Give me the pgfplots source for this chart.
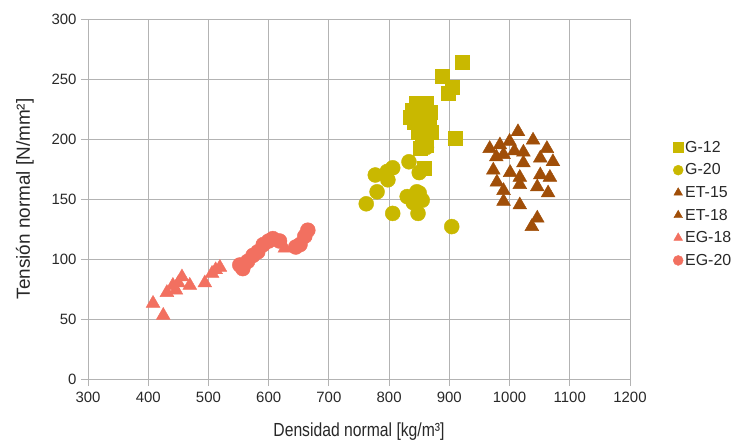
\documentclass[border=0pt]{standalone}
\usepackage{pgfplots}
\pgfplotsset{compat=1.18}
\usepackage{fontspec}
\setmainfont{Liberation Sans}
\newfontfamily\narrowfont{Liberation Sans}[FakeStretch=0.83]
\definecolor{gcol}{RGB}{201,184,0}
\definecolor{etcol}{RGB}{160,78,8}
\definecolor{egcol}{RGB}{242,112,96}
\definecolor{gridcol}{RGB}{179,179,179}
\definecolor{txtcol}{RGB}{40,40,40}
\begin{document}
\begin{tikzpicture}
\begin{axis}[
  scale only axis,
  width=542bp, height=360bp,
  xmin=300, xmax=1200, ymin=0, ymax=300,
  xtick={300,400,...,1200}, ytick={0,50,...,300},
  grid=major,
  major grid style={gridcol, line width=0.9pt},
  axis line style={gridcol, line width=0.9pt},
  tick style={gridcol, line width=0.9pt},
  tick align=outside, major tick length=7bp,
  xtick pos=bottom, ytick pos=left,
  /pgf/number format/assume math mode=true,
  /pgf/number format/set thousands separator={},
  ticklabel style={font=\fontsize{15}{17}\selectfont, text=txtcol},
  yticklabel style={xshift=-1bp},
  xticklabel style={yshift=-3bp},
  xlabel={\narrowfont Densidad normal [kg/m³]},
  ylabel={Tensión normal [N/mm²]},
  label style={font=\fontsize{19}{21}\selectfont, text=txtcol},
  xlabel style={yshift=-13bp},
  ylabel style={yshift=11bp},
  legend style={at={(1,0.5)}, anchor=west, xshift=43bp, yshift=-5bp,
    draw=none, fill=none,
    font=\fontsize{16}{18}\selectfont, row sep=6bp, inner sep=0pt,
    nodes={text=txtcol, inner xsep=2bp}},
  legend cell align=left,
  legend image code/.code={\draw[#1, mark size=5bp] plot coordinates {(0bp,0bp)};},
]
% G-12
\addplot[only marks, mark=square*, mark size=7bp, color=gcol] coordinates {
(921,264) (888,252) (904,243) (898,238) (909,201)
(838,224) (842,214) (848,219) (855,228) (862,230) (868,222) (858,212)
(866,215) (870,206) (848,206) (855,200) (862,195) (845,230) (835,218)
(852,192) (858,176)
};
\addlegendentry{G-12}
% G-20
\addplot[only marks, mark=*, mark size=7.5bp, color=gcol] coordinates {
(858,200) (862,193) (833,181) (850,172) (777,170) (797,173) (806,176)
(798,166) (780,156) (762,146) (806,138) (830,152) (846,156) (840,147)
(855,149) (848,138) (904,127) (838,150) (850,155)
};
\addlegendentry{G-20}
% ET-15
\addplot[only marks, mark=triangle*, mark size=8bp, color=etcol] coordinates {
(1014,206) (967,192) (984,195) (1000,198) (1039,199) (1062,192)
(1023,189) (990,187) (1051,184) (1023,180) (973,174) (1001,172)
};
\addlegendentry{ET-15}
% ET-18
\addplot[only marks, mark=triangle*, mark size=8bp, color=etcol] coordinates {
(1017,168) (1051,170) (979,164) (1017,162) (1046,160) (1067,168)
(990,157) (1064,155) (990,148) (1017,145) (1046,134) (1037,127)
(1072,181) (1008,190) (978,185)
};
\addlegendentry{ET-18}
% EG-18
\addplot[only marks, mark=triangle*, mark size=8bp, color=egcol] coordinates {
(408,63) (425,53) (431,72) (441,78) (450,80) (456,85) (469,78) (446,74)
(494,80) (506,88) (512,91) (519,93) (627,109)
};
\addlegendentry{EG-18}
% EG-20
\addplot[only marks, mark=*, mark size=7.5bp, color=egcol] coordinates {
(552,95) (557,92) (565,98) (574,103) (582,106) (591,112) (600,115)
(607,117) (618,115) (645,110) (652,112) (660,119) (665,124)
};
\addlegendentry{EG-20}
\end{axis}
\pgfresetboundingbox
\path[use as bounding box] ([xshift=-88bp,yshift=-62bp]current axis.south west)
  rectangle ([xshift=104bp,yshift=19bp]current axis.north east);
\end{tikzpicture}
\end{document}
